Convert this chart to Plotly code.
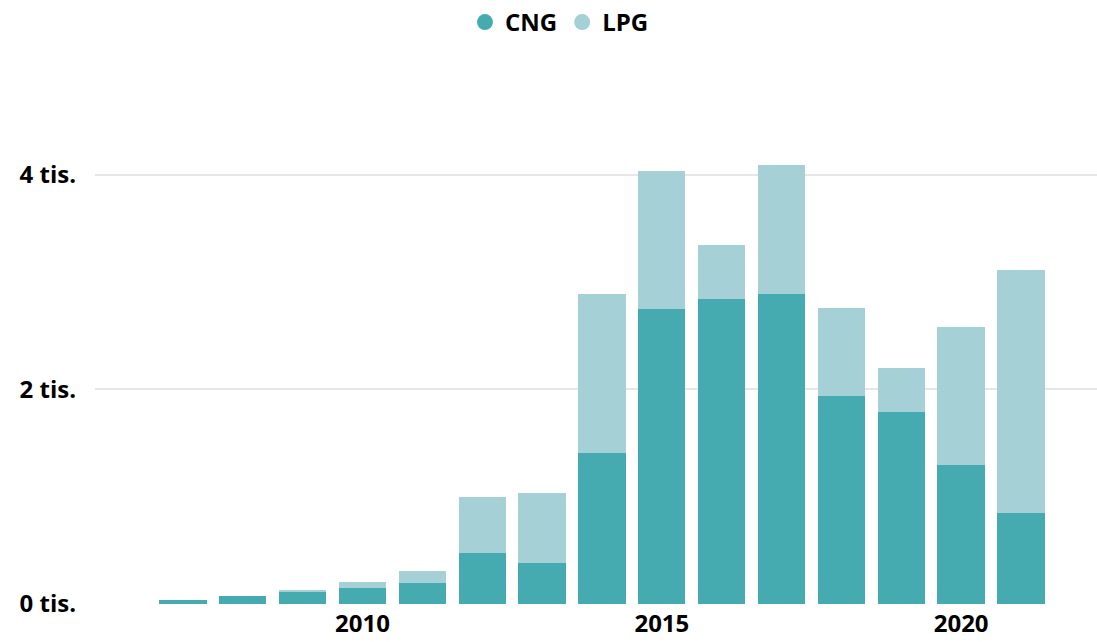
import plotly.graph_objects as go

years = list(range(2007, 2022))
cng = [40, 75, 112, 149, 196, 475, 382, 1407, 2750, 2843, 2890, 1939, 1790, 1296, 848]
lpg = [0, 0, 10, 56, 112, 522, 653, 1483, 1286, 503, 1202, 820, 410, 1286, 2265]
tick_vals = [0, 2000, 4000]
tick_text = ["0 tis.", "2 tis.", "4 tis."]

c_cng = "#46ABB0"
c_lpg = "#A5D0D5"

fig = go.Figure()
fig.add_trace(go.Bar(x=years, y=cng, name="CNG", marker=dict(color=c_cng, line=dict(width=0)),
                     showlegend=False, width=0.79))
fig.add_trace(go.Bar(x=years, y=lpg, name="LPG", marker=dict(color=c_lpg, line=dict(width=0)),
                     showlegend=False, width=0.79))
# legend markers (circles)
fig.add_trace(go.Scatter(x=[None], y=[None], mode="markers", name="CNG",
                         marker=dict(symbol="circle", size=20, color=c_cng)))
fig.add_trace(go.Scatter(x=[None], y=[None], mode="markers", name="LPG",
                         marker=dict(symbol="circle", size=20, color=c_lpg)))

font_bold = dict(family="Open Sans", size=24, color="black", weight="bold")

fig.update_layout(
    barmode="stack",
    width=1097, height=642,
    margin=dict(l=95, r=0, t=132, b=38),
    plot_bgcolor="white", paper_bgcolor="white",
    legend=dict(orientation="h", x=0.51, xanchor="center", xref="container",
                y=1.0, yref="container", yanchor="top", font=font_bold,
                itemwidth=30, traceorder="normal"),
    xaxis=dict(range=[2005.53, 2022.27], tickvals=[2010, 2015, 2020],
               tickfont=font_bold, showgrid=False, zeroline=False, showline=False,
               ticks="", ticklabelstandoff=3, automargin=False),
    yaxis=dict(range=[0, 4400], tickvals=tick_vals, ticktext=tick_text,
               tickfont=font_bold, gridcolor="#E6E6E6", gridwidth=1.5,
               zeroline=False, showline=False, ticks="", ticklabelstandoff=18,
               automargin=False),
)

fig.write_html("out.html", config={"displayModeBar": False})
with open("out.html", encoding="utf-8") as f:
    html = f.read()
html = html.replace("<head>", "<head><style>html,body{margin:0;padding:0;overflow:hidden;}</style>", 1)
with open("out.html", "w", encoding="utf-8") as f:
    f.write(html)
